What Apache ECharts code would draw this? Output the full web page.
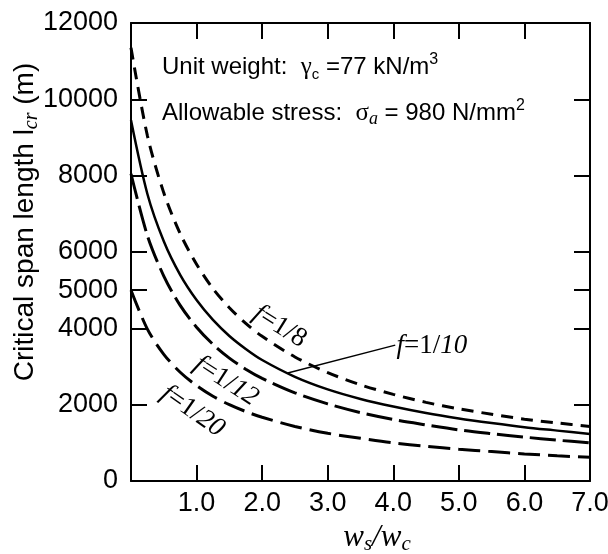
<!DOCTYPE html>
<html>
<head>
<meta charset="utf-8">
<script src="https://cdn.jsdelivr.net/npm/echarts@6/dist/echarts.min.js"></script>
<style>
  html, body { margin: 0; padding: 0; background: #fff; }
  #chart { width: 608px; height: 554px; }
</style>
</head>
<body>
<div id="chart"></div>
<script>
// Load ratio w_s / w_c
const wsRatio = [0, 0.25, 0.5, 0.75, 1, 1.25, 1.5, 1.75, 2, 2.5, 3, 3.5, 4, 4.5, 5, 5.5, 6, 6.5, 7];

// Critical span length l_cr (m) for each sag ratio f
const spanF8  = [11350, 9050, 7550, 6480, 5680, 5040, 4540, 4130, 3790, 3250, 2840, 2520, 2270, 2060, 1890, 1750, 1620, 1520, 1430];
const spanF10 = [9450, 7520, 6280, 5400, 4740, 4220, 3800, 3460, 3170, 2730, 2400, 2150, 1950, 1780, 1640, 1520, 1410, 1320, 1230];
const spanF12 = [8050, 6430, 5370, 4600, 4030, 3580, 3220, 2930, 2690, 2310, 2020, 1790, 1610, 1470, 1340, 1240, 1150, 1070, 1000];
const spanF20 = [5000, 3980, 3320, 2850, 2500, 2220, 2000, 1820, 1670, 1430, 1250, 1120, 1000, 910, 830, 770, 710, 660, 620];

// Axis ticks and labels
const xLabelValues = [1, 2, 3, 4, 5, 6, 7];
const xTickValues = [1, 2, 3, 4, 5, 6];
const yLabelValues = [0, 2000, 4000, 5000, 6000, 8000, 10000, 12000];
const yTickValues = [2000, 4000, 5000, 6000, 8000, 10000];

const SANS = 'Arial, "Liberation Sans", sans-serif';
const SERIF = '"Times New Roman", "Liberation Serif", serif';

const pairs = (xs, ys) => xs.map((x, i) => [x, ys[i]]);

const chart = echarts.init(document.getElementById('chart'), null, { renderer: 'canvas' });

const frameLine = { show: true, onZero: false, lineStyle: { color: '#000', width: 2 } };
const tickStyle = (vals) => ({ show: true, inside: true, length: 16, customValues: vals, lineStyle: { color: '#000', width: 2 } });

function curve(name, data, type, width) {
  return {
    name: name,
    type: 'line',
    data: data,
    showSymbol: false,
    smooth: 0.3,
    clip: true,
    lineStyle: { color: '#000', width: width, type: type, cap: 'butt' }
  };
}

chart.setOption({
  animation: false,
  backgroundColor: '#fff',
  grid: { left: 131, right: 18, top: 23, bottom: 73, outerBoundsMode: 'none' },
  xAxis: [
    {
      type: 'value', min: 0, max: 7, position: 'bottom',
      axisLine: frameLine,
      axisTick: tickStyle(xTickValues),
      axisLabel: { customValues: xLabelValues, formatter: v => v.toFixed(1), color: '#000', fontFamily: SANS, fontSize: 27, margin: 9 },
      splitLine: { show: false }
    },
    {
      type: 'value', min: 0, max: 7, position: 'top',
      axisLine: frameLine,
      axisTick: tickStyle(xTickValues),
      axisLabel: { show: false },
      splitLine: { show: false }
    }
  ],
  yAxis: [
    {
      type: 'value', min: 0, max: 12000, position: 'left',
      axisLine: frameLine,
      axisTick: tickStyle(yTickValues),
      axisLabel: { customValues: yLabelValues, formatter: v => String(v), color: '#000', fontFamily: SANS, fontSize: 27, margin: 13 },
      splitLine: { show: false }
    },
    {
      type: 'value', min: 0, max: 12000, position: 'right',
      axisLine: frameLine,
      axisTick: tickStyle(yTickValues),
      axisLabel: { show: false },
      splitLine: { show: false }
    }
  ],
  series: [
    curve('f=1/8', pairs(wsRatio, spanF8), [12, 8], 3),
    curve('f=1/10', pairs(wsRatio, spanF10), 'solid', 2.5),
    curve('f=1/12', pairs(wsRatio, spanF12), [26, 7], 3),
    curve('f=1/20', pairs(wsRatio, spanF20), [22, 8], 3)
  ]
});

// Annotation anchors in data coordinates (w_s/w_c, l_cr)
const px = (x, y) => chart.convertToPixel({ gridIndex: 0 }, [x, y]);
const deg = d => d * Math.PI / 180;

const curveLabelRich = {
  i: { fontFamily: SERIF, fontStyle: 'italic', fontSize: 27, fill: '#000' },
  u: { fontFamily: SERIF, fontSize: 27, fill: '#000' }
};

function curveLabel(text, pos, angle, align) {
  return {
    type: 'text',
    x: pos[0], y: pos[1],
    rotation: deg(angle),
    style: { text: text, rich: curveLabelRich, align: align || 'center', verticalAlign: 'middle', fill: '#000' },
    z: 10
  };
}

const p8 = px(2.27, 4050);
const p12 = px(1.45, 2620);
const p20 = px(0.94, 1830);
const p10 = px(4.05, 3540);
const leadA = px(2.39, 2830);
const leadB = px(4.03, 3560);

const mainRich = {
  t: { fontFamily: SANS, fontSize: 24, fill: '#000', lineHeight: 30 },
  g: { fontFamily: SERIF, fontSize: 25, fill: '#000', lineHeight: 30 },
  s: { fontFamily: SANS, fontSize: 15, fill: '#000', lineHeight: 12, verticalAlign: 'bottom' },
  si: { fontFamily: SERIF, fontStyle: 'italic', fontSize: 18, fill: '#000', lineHeight: 13, verticalAlign: 'bottom' },
  p: { fontFamily: SANS, fontSize: 16, fill: '#000', lineHeight: 12, verticalAlign: 'top' }
};

chart.setOption({
  graphic: [
    {
      type: 'text', x: 162, y: 67,
      style: { text: '{t|Unit weight:  }{g|γ}{s|c}{t| =77 kN/m}{p|3}', rich: mainRich, align: 'left', verticalAlign: 'middle' }
    },
    {
      type: 'text', x: 162, y: 113,
      style: { text: '{t|Allowable stress:  }{g|σ}{si|a}{t| = 980 N/mm}{p|2}', rich: mainRich, align: 'left', verticalAlign: 'middle' }
    },
    {
      type: 'text', x: 25, y: 222, rotation: deg(90),
      style: {
        text: '{t|Critical span length l}{s|cr}{t| (m)}',
        align: 'center', verticalAlign: 'middle',
        rich: {
          t: { fontFamily: SANS, fontSize: 28, fill: '#000', lineHeight: 34 },
          s: { fontFamily: SERIF, fontStyle: 'italic', fontSize: 20, fill: '#000', lineHeight: 14, verticalAlign: 'bottom' }
        }
      }
    },
    {
      type: 'text', x: 377, y: 538,
      style: {
        text: '{i|w}{s|s}{i|/w}{s|c}',
        align: 'center', verticalAlign: 'middle',
        rich: {
          i: { fontFamily: SERIF, fontStyle: 'italic', fontSize: 31, fill: '#000', lineHeight: 34 },
          s: { fontFamily: SERIF, fontStyle: 'italic', fontSize: 21, fill: '#000', lineHeight: 16, verticalAlign: 'bottom' }
        }
      }
    },
    curveLabel('{i|f}{u|=1/8}', p8, -32),
    curveLabel('{i|f}{u|=1/}{i|12}', p12, -33),
    curveLabel('{i|f}{u|=1/}{i|20}', p20, -35),
    curveLabel('{i|f}{u|=1/}{i|10}', p10, 0, 'left'),
    {
      type: 'line',
      shape: { x1: leadA[0], y1: leadA[1], x2: leadB[0], y2: leadB[1] },
      style: { stroke: '#000', lineWidth: 1.5 }
    }
  ]
});
</script>
</body>
</html>
